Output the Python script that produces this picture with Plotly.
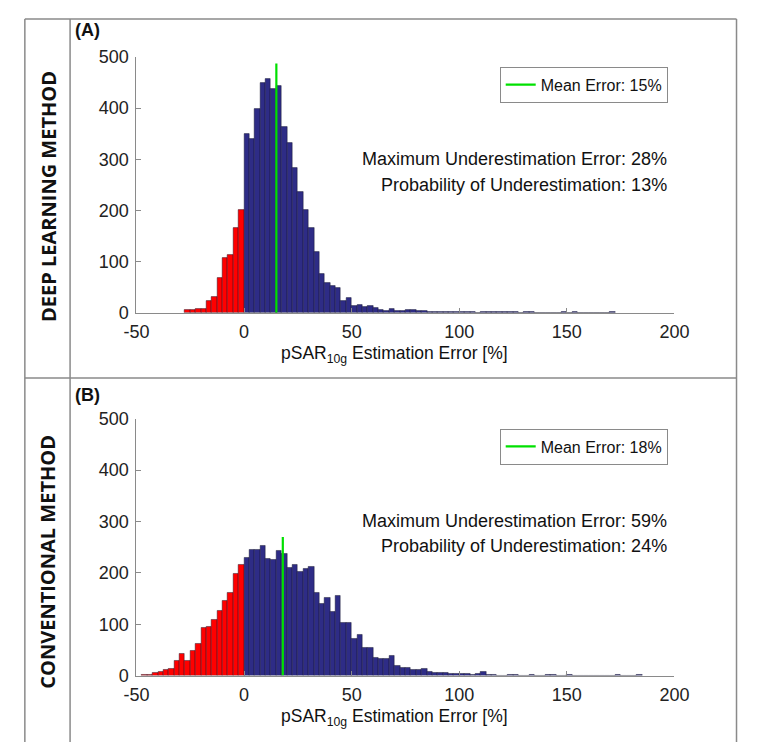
import numpy as np
import plotly.graph_objects as go

# ---------------- data ----------------
BIN_W = 2.5
# Panel A (deep learning): bins start at -27.5
a_start = -27.5
a_counts = [6, 6, 8, 8, 23, 31, 69, 107, 113, 166, 201,
            349, 340, 399, 449, 457, 438, 443, 363, 331, 283, 237, 201, 166, 118,
            76, 59, 53, 48, 23, 29, 13, 16, 11, 13, 10, 5, 4, 8, 4,
            3, 5, 5, 3, 3, 2, 2, 2, 2, 1, 2, 1, 1, 1, 0, 1, 1, 1, 1, 1,
            1, 1, 0, 2, 2, 0, 0, 0, 0, 0, 1, 0, 1, 0, 0, 0, 0, 0, 0, 1]
a_mean = 15
a_mean_top = 487
a_text = ["Maximum Underestimation Error: 28%", "Probability of Underestimation: 13%"]

# Panel B (conventional): bins start at -47.5
b_start = -47.5
b_counts = [2, 2, 5, 8, 11, 14, 28, 42, 28, 49, 61, 93, 95, 108, 127, 145, 162, 198, 216,
            230, 245, 244, 253, 228, 225, 243, 237, 210, 215, 203, 207, 211, 162, 139, 151,
            125, 155, 103, 103, 72, 80, 55, 55, 35, 33, 32, 39, 19, 15, 15,
            11, 11, 13, 8, 6, 5, 5, 3, 3, 3, 3, 2, 4, 8, 1, 1, 0, 0, 1, 1,
            0, 0, 1, 0, 0, 1, 1, 0, 0, 1, 0, 0, 0, 0, 0, 0, 0, 0, 1, 0, 0, 0, 1]
b_mean = 18
b_mean_top = 270
b_text = ["Maximum Underestimation Error: 59%", "Probability of Underestimation: 24%"]

x_ticks = [-50, 0, 50, 100, 150, 200]
x_ticktext = ["-50", "0", "50", "100", "150", "200"]
y_ticks = [0, 100, 200, 300, 400, 500]

RED = "#FF0000"
BLUE = "#2E2C86"
GREEN = "#00E000"
GRAY = "#8a8a8a"
FONT = "Liberation Sans, Arial, sans-serif"

W, H = 744, 734
OFF = 8  # page margin of the html body


def px(x):
    return (x - OFF) / W


def py(y):
    return 1 - (y - OFF) / H


fig = go.Figure()


def add_hist(start, counts, mean, mean_top, xa, ya, legend_name):
    centers = start + BIN_W / 2 + BIN_W * np.arange(len(counts))
    counts = np.array(counts)
    neg = centers < 0
    for mask, col in ((neg, RED), (~neg, BLUE)):
        fig.add_trace(go.Bar(x=centers[mask], y=counts[mask], width=BIN_W,
                             marker=dict(color=col, line=dict(color="rgba(20,20,40,0.75)", width=0.6)),
                             xaxis=xa, yaxis=ya, showlegend=False, hoverinfo="x+y"))
    fig.add_trace(go.Scatter(x=[mean, mean], y=[0, mean_top], mode="lines",
                             line=dict(color=GREEN, width=2.2),
                             name=f"Mean Error: {mean}%", xaxis=xa, yaxis=ya,
                             legend=legend_name, showlegend=True))


add_hist(a_start, a_counts, a_mean, a_mean_top, "x", "y", "legend")
add_hist(b_start, b_counts, b_mean, b_mean_top, "x2", "y2", "legend2")

axis_common = dict(showgrid=False, zeroline=False, showline=True, linecolor=GRAY, linewidth=1,
                   ticks="inside", ticklen=5, tickcolor=GRAY, tickwidth=1,
                   tickfont=dict(family=FONT, size=18, color="#222"))
xax = dict(range=[-50, 200], tickvals=x_ticks, ticktext=x_ticktext, ticklabelstandoff=3, **axis_common)
yax = dict(range=[0, 500], tickvals=y_ticks, ticklabelstandoff=3, **axis_common)

xdom = [px(128), px(687)]
leg_common = dict(x=px(680), xanchor="right", yanchor="top", bgcolor="white",
                  bordercolor=GRAY, borderwidth=1, font=dict(family=FONT, size=16, color="#111"),
                  itemwidth=30)
fig.update_layout(
    width=W, height=H, margin=dict(l=0, r=0, t=0, b=0),
    paper_bgcolor="white", plot_bgcolor="white",
    barmode="overlay", bargap=0,
    xaxis=dict(domain=xdom, anchor="y", **xax),
    yaxis=dict(domain=[py(311), py(48)], anchor="x", **yax),
    xaxis2=dict(domain=xdom, anchor="y2", **xax),
    yaxis2=dict(domain=[py(684), py(420)], anchor="x2", **yax),
    legend=dict(y=py(58), **leg_common),
    legend2=dict(y=py(430), **leg_common),
    showlegend=True,
)

ann = []
xtitle = "pSAR<sub>10g</sub> Estimation Error [%]"
panels = [
    dict(xt_y=354, lab="(A)", lab_y=20, side="DEEP LEARNING METHOD", side_y=191, texts=a_text, ty=(153, 180)),
    dict(xt_y=727, lab="(B)", lab_y=396, side="CONVENTIONAL METHOD", side_y=567, texts=b_text, ty=(525, 551)),
]
for p in panels:
    ann.append(dict(text=xtitle, x=px(396), y=py(p["xt_y"]), xref="paper", yref="paper",
                    showarrow=False, xanchor="center", yanchor="middle",
                    font=dict(family=FONT, size=17.5, color="#111")))
    ann.append(dict(text="<b>" + p["lab"] + "</b>", x=px(62), y=py(p["lab_y"]), xref="paper", yref="paper",
                    showarrow=False, xanchor="left", yanchor="middle",
                    font=dict(family=FONT, size=18, color="#111")))
    ann.append(dict(text="<b>" + p["side"] + "</b>", x=px(36), y=py(p["side_y"]), xref="paper", yref="paper",
                    showarrow=False, xanchor="center", yanchor="middle", textangle=-90,
                    font=dict(family="Open Sans, sans-serif", size=20, color="#111")))
    for t, yy in zip(p["texts"], p["ty"]):
        ann.append(dict(text=t, x=px(681), y=py(yy), xref="paper", yref="paper",
                        showarrow=False, xanchor="right", yanchor="middle",
                        font=dict(family=FONT, size=18, color="#111")))
fig.update_layout(annotations=ann)

line = dict(color=GRAY, width=1.5)
x_left, x_inner, x_right = px(12), px(59), min(px(755), 1 - 0.5 / W)
y_top, y_mid, y_bot = py(9), py(378), py(760)
shapes = [
    dict(type="line", xref="paper", yref="paper", x0=x_left, x1=x_right, y0=y_top, y1=y_top, line=line),
    dict(type="line", xref="paper", yref="paper", x0=x_left, x1=x_right, y0=y_mid, y1=y_mid, line=line),
    dict(type="line", xref="paper", yref="paper", x0=x_left, x1=x_left, y0=y_top, y1=y_bot, line=line),
    dict(type="line", xref="paper", yref="paper", x0=x_inner, x1=x_inner, y0=y_top, y1=y_bot, line=line),
    dict(type="line", xref="paper", yref="paper", x0=x_right, x1=x_right, y0=y_top, y1=y_bot, line=line),
]
fig.update_layout(shapes=shapes)

fig.write_html("out.html")
